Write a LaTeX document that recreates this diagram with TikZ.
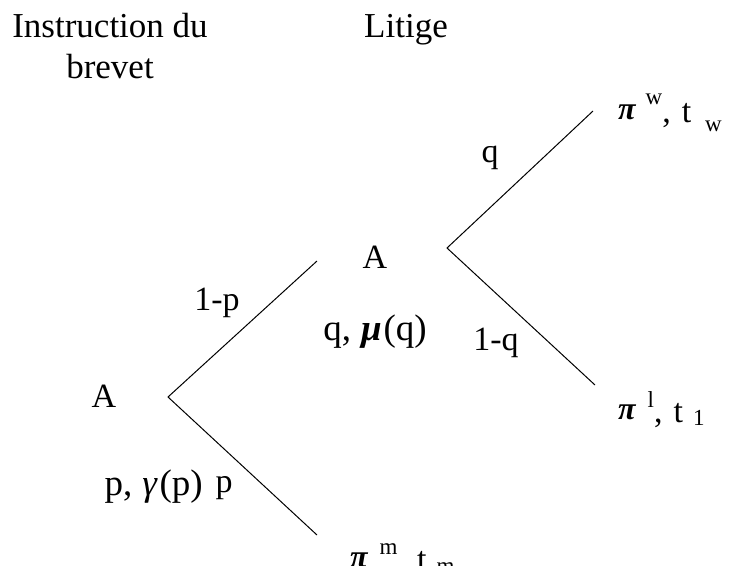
\documentclass[tikz,border=0pt]{standalone}
\usepackage{fontspec}
\setmainfont{Liberation Serif}
% #1 pi raise, #2 gap after pi, #3 sup raise, #4 sup, #5 gap after t, #6 sub, #7 sub drop
\newcommand\payoff[7]{\raisebox{#1}{\fontsize{32}{34}\selectfont\bfseries\itshape π}\hspace{#2}\raisebox{#3}{\fontsize{23}{24}\selectfont #4},\hspace{11pt}t\hspace{#5}\raisebox{-#7}{\fontsize{23}{24}\selectfont #6}}
\begin{document}
\begin{tikzpicture}[x=1pt,y=-1pt,
  lbl/.style={inner sep=0pt, anchor=base, font=\fontsize{34}{40}\selectfont},
  big/.style={inner sep=0pt, anchor=base, font=\fontsize{37}{40}\selectfont},
  head/.style={inner sep=0pt, anchor=base, font=\fontsize{35}{41}\selectfont},
  branch/.style={line width=1pt}]
\useasboundingbox (0,0) rectangle (731,565);
% tree vertices and branch ends
\coordinate (r) at (168,397);
\coordinate (m) at (447,248);
\coordinate (up) at (317,261);
\coordinate (lo) at (317,535);
\coordinate (ww) at (593,111);
\coordinate (ll) at (595,385);
\draw[branch] (up) -- (r) -- (lo);
\draw[branch] (ww) -- (m) -- (ll);
% headings
\node[head] (h1) at (110,37) {Instruction du};
\node[head] (h1b) at (110,78) {brevet};
\node[head] (h2) at (406,37) {Litige};
% labels
\node[lbl] (A1) at (104,407) {A};
\node[big, anchor=base east] (pg) at (203,495) {p,\hspace{10pt}\textit{γ}\hspace{2pt}(p)};
\node[lbl] (lp) at (217,310) {1-p};
\node[lbl] (p) at (224,492) {p};
\node[lbl] (A2) at (375,268) {A};
\node[big] (qm) at (375,340) {q,\hspace{10pt}\textbf{\textit{μ}}\hspace{2pt}(q)};
\node[lbl] (q) at (490,162) {q};
\node[lbl] (lq) at (496,350) {1-q};
% payoffs
\node[lbl, anchor=base west] (pw) at (618,122) {\payoff{3pt}{10pt}{18pt}{w}{14pt}{w}{9pt}};
\node[lbl, anchor=base west] (pl) at (618,422) {\payoff{3pt}{12pt}{15pt}{l}{10pt}{1}{3pt}};
\node[lbl, anchor=base west] (pm) at (350,570) {\payoff{3pt}{12pt}{16pt}{m}{10pt}{m}{3pt}};
\end{tikzpicture}
\end{document}
